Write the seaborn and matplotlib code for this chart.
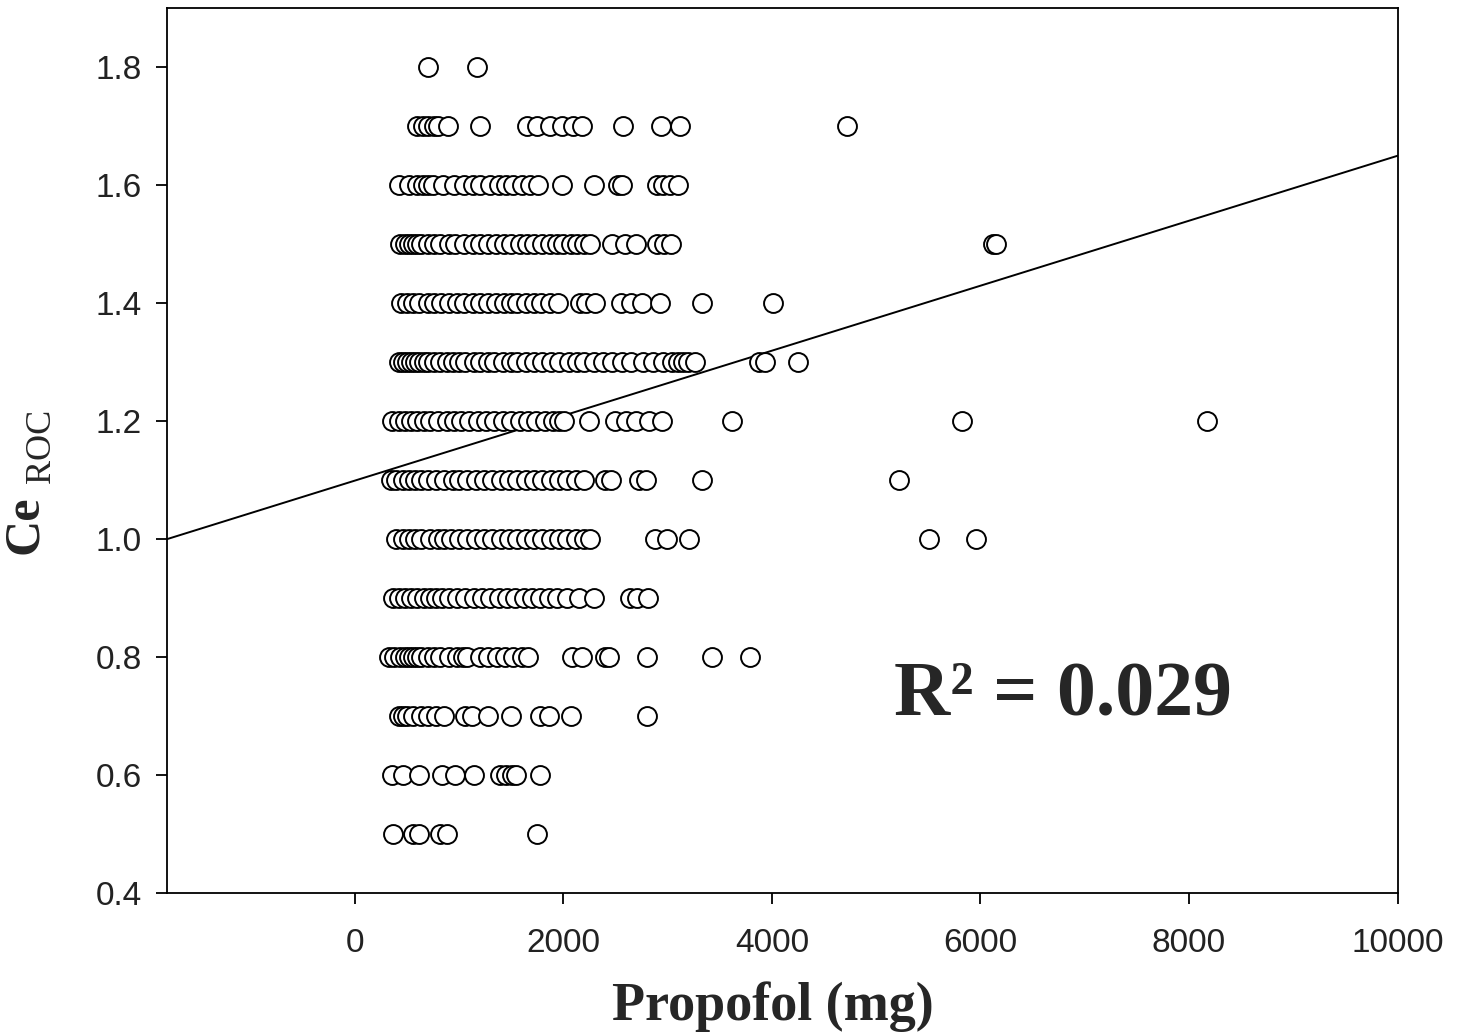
import pandas as pd
import seaborn as sns
import matplotlib.pyplot as plt

ce_levels = [1.8, 1.7, 1.6, 1.5, 1.4, 1.3, 1.2, 1.1, 1.0, 0.9, 0.8, 0.7, 0.6, 0.5]

dose_18 = [700, 1170]
dose_17 = [600, 650, 700, 760, 800, 890, 1200, 1650, 1750, 1870, 1990, 2090, 2180,
           2570, 2940, 3120, 4720]
dose_16 = [420, 520, 600, 650, 700, 750, 850, 950, 1050, 1130, 1200, 1300, 1380, 1450,
           1520, 1600, 1680, 1760, 1990, 2290, 2520, 2560, 2900, 2960, 3020, 3100]
dose_15 = [430, 480, 520, 560, 600, 640, 700, 760, 820, 900, 960, 1050, 1130, 1200, 1280,
           1350, 1430, 1500, 1580, 1650, 1720, 1800, 1870, 1940, 2000, 2070, 2130, 2200,
           2260, 2470, 2590, 2700, 2900, 2970, 3030, 6120, 6150]
dose_14 = [440, 500, 560, 620, 700, 760, 830, 900, 980, 1050, 1130, 1200, 1280, 1350,
           1430, 1500, 1560, 1640, 1720, 1790, 1870, 1950, 2160, 2220, 2300, 2550, 2650,
           2750, 2930, 3330, 4010]
dose_13 = [420, 460, 500, 540, 580, 620, 660, 700, 760, 820, 880, 940, 1000, 1060, 1140,
           1200, 1280, 1340, 1420, 1500, 1560, 1640, 1720, 1800, 1880, 1960, 2050, 2130,
           2200, 2290, 2380, 2470, 2560, 2650, 2760, 2860, 2960, 3040, 3100, 3150, 3200,
           3260, 3880, 3930, 4250]
dose_12 = [360, 420, 480, 540, 600, 660, 720, 800, 880, 950, 1020, 1100, 1180, 1260, 1340,
           1420, 1500, 1580, 1660, 1740, 1820, 1900, 1960, 2010, 2250, 2500, 2600, 2700,
           2820, 2950, 3620, 5820, 8170]
dose_11 = [350, 400, 460, 520, 580, 640, 700, 780, 860, 940, 1000, 1080, 1160, 1240, 1320,
           1400, 1480, 1560, 1640, 1720, 1800, 1880, 1960, 2040, 2120, 2200, 2400, 2460,
           2730, 2790, 3330, 5220]
dose_10 = [400, 460, 520, 580, 640, 720, 800, 860, 920, 1000, 1080, 1160, 1240, 1320,
           1400, 1480, 1560, 1640, 1720, 1800, 1880, 1960, 2040, 2120, 2200, 2260, 2880,
           2990, 3210, 5510, 5960]
dose_09 = [370, 420, 480, 540, 600, 660, 720, 780, 840, 900, 980, 1060, 1140, 1220, 1300,
           1380, 1460, 1540, 1620, 1700, 1780, 1860, 1940, 2040, 2150, 2290, 2640, 2710,
           2810]
dose_08 = [330, 380, 430, 480, 520, 560, 600, 640, 700, 760, 820, 900, 980, 1040, 1080,
           1200, 1280, 1360, 1440, 1520, 1600, 1660, 2080, 2180, 2400, 2440, 2800, 3430,
           3790]
dose_07 = [420, 460, 500, 560, 640, 700, 780, 860, 1060, 1120, 1280, 1500, 1780, 1860,
           2070, 2800]
dose_06 = [360, 460, 620, 840, 960, 1140, 1390, 1450, 1510, 1550, 1780]
dose_05 = [370, 560, 620, 820, 880, 1750]

doses = [dose_18, dose_17, dose_16, dose_15, dose_14, dose_13, dose_12,
         dose_11, dose_10, dose_09, dose_08, dose_07, dose_06, dose_05]

# regression line end points as drawn
fit_x = [-1800, 10000]
fit_y = [1.0, 1.65]
r2_text = "R\u00b2 = 0.029"

rows = []
for ce, xs in zip(ce_levels, doses):
    for x in xs:
        rows.append({"propofol": x, "ce": ce})
df = pd.DataFrame(rows)
fit = pd.DataFrame({"propofol": fit_x, "ce": fit_y})

sns.set_style("ticks")
plt.rcParams['font.family'] = ['Liberation Sans', 'DejaVu Sans']

fig = plt.figure(figsize=(14.65, 10.36), dpi=100)
ax = fig.add_axes([0.114, 0.138, 0.840, 0.854])

sns.scatterplot(data=df, x="propofol", y="ce", ax=ax, marker="o", s=185,
                facecolor="white", edgecolor="black", linewidth=1.4, zorder=3)
sns.lineplot(data=fit, x="propofol", y="ce", ax=ax, color="black", linewidth=1.4,
             zorder=2)

ax.set_xlim(-1800, 10000)
ax.set_ylim(0.4, 1.9)
ax.set_xticks([0, 2000, 4000, 6000, 8000, 10000])
ax.set_yticks([0.4, 0.6, 0.8, 1.0, 1.2, 1.4, 1.6, 1.8])
ax.set_yticklabels([f"{v:.1f}" for v in ax.get_yticks()])
ax.tick_params(axis="both", direction="out", length=8, width=1.3, labelsize=24,
               pad=10, colors="black", labelcolor="#222222")
ax.tick_params(axis="x", pad=17)
for sp in ax.spines.values():
    sp.set_linewidth(1.3)
    sp.set_color("black")

ax.set_xlabel("")
ax.set_ylabel("")
fig.text(0.5276, 0.015, "Propofol (mg)", family="Liberation Serif",
         fontweight="bold", fontsize=39, ha="center", va="baseline")
fig.text(0.0253, 0.4937, "Ce", rotation=90, rotation_mode="anchor",
         family="Liberation Serif", fontweight="bold", fontsize=36,
         ha="center", va="baseline")
fig.text(0.0341, 0.5695, "ROC", rotation=90, rotation_mode="anchor",
         family="Liberation Serif", fontsize=26, ha="center", va="baseline")

ax.text(6790, 0.703, r2_text, family="Liberation Serif", fontweight="bold",
        fontsize=56, ha="center", va="baseline")

fig.savefig("out.png", dpi=100)
